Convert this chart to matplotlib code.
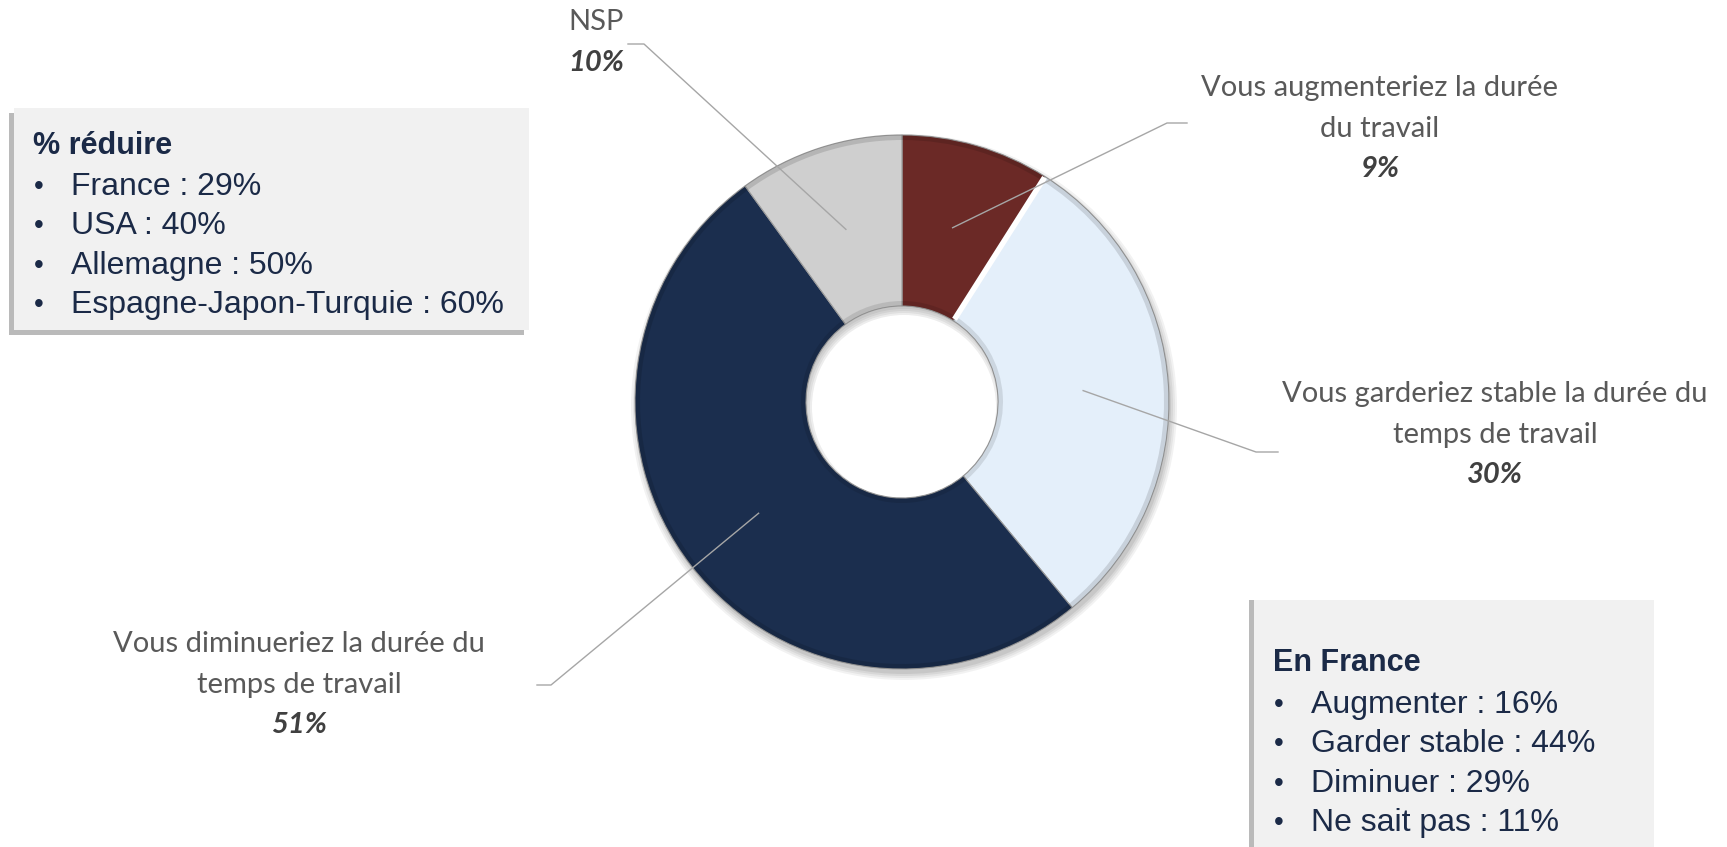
import matplotlib.pyplot as plt
from matplotlib.patches import Rectangle, Wedge
import numpy as np

# data
labels = ["Vous augmenteriez la durée\ndu travail",
          "Vous garderiez stable la durée du\ntemps de travail",
          "Vous diminueriez la durée du\ntemps de travail",
          "NSP"]
values = [9, 30, 51, 10]
colors = ["#6B2926", "#E4EFFA", "#1B2E4E", "#CFCFCF"]

box1_title = "% réduire"
box1_items = ["France : 29%", "USA : 40%", "Allemagne : 50%", "Espagne-Japon-Turquie : 60%"]
box2_title = "En France"
box2_items = ["Augmenter : 16%", "Garder stable : 44%", "Diminuer : 29%", "Ne sait pas : 11%"]

W, H = 1727, 847
fig = plt.figure(figsize=(W / 100, H / 100), dpi=100)
ax = fig.add_axes([0, 0, 1, 1])


def Y(y):
    # layout written with y from top of image
    return H - y


cx, cy = 902, Y(402)
R, r_in = 267, 96

# soft shadow behind the ring
for k, a in enumerate([0.05, 0.05, 0.06, 0.07]):
    ax.add_patch(Wedge((cx + 2, cy - 5), R + 6 - 2 * k, 0, 360, width=R - r_in + 4,
                       color="#000000", alpha=a, lw=0))

wedges, _ = ax.pie(values, colors=colors, startangle=90, counterclock=False,
                   center=(cx, cy), radius=R, frame=True,
                   wedgeprops=dict(width=R - r_in, edgecolor="#9A9A9A", linewidth=0.8))

# bevel-like darker rim on each slice
for w in wedges:
    ax.add_patch(Wedge((cx, cy), R, w.theta1, w.theta2, width=5,
                       color="#000000", alpha=0.12, lw=0, zorder=2))
    ax.add_patch(Wedge((cx, cy), r_in + 5, w.theta1, w.theta2, width=5,
                       color="#000000", alpha=0.10, lw=0, zorder=2))

# white gap between first and second slice
t = np.deg2rad(wedges[0].theta1)
ax.plot([cx + (r_in + 2) * np.cos(t), cx + (R - 1) * np.cos(t)],
        [cy + (r_in + 2) * np.sin(t), cy + (R - 1) * np.sin(t)],
        color="white", lw=4, solid_capstyle="butt", zorder=3)

# leader lines and labels
elbows = [(1167, 123), (1256, 452), (551, 685), (644, 44)]
ends = [(1187, 123), (1278, 452), (537, 685), (628, 44)]
text_x = [1380, 1495, 299, 596]
text_y = [88, 394, 644, 22]
line_gap = 40.5
r_mid = (R + r_in) / 2
for w, lab, v, el, en, tx, ty in zip(wedges, labels, values, elbows, ends, text_x, text_y):
    ang = np.deg2rad((w.theta1 + w.theta2) / 2)
    x0, y0 = cx + r_mid * np.cos(ang), cy + r_mid * np.sin(ang)
    ax.plot([x0, el[0], en[0]], [y0, Y(el[1]), Y(en[1])], color="#A6A6A6", lw=1.0, zorder=4)
    lines = lab.split("\n")
    for i, ln in enumerate(lines):
        ax.text(tx, Y(ty + i * line_gap), ln, ha="center", va="center", fontsize=21,
                family="Lato", color="#595959")
    ax.text(tx, Y(ty + len(lines) * line_gap), f"{v}%", ha="center", va="center",
            fontsize=21, family="Lato", color="#404040", fontweight="bold", style="italic")


def info_box(x, y, w, h, title, items, title_dy, first_dy, shadow=(-5, 5)):
    ax.add_patch(Rectangle((x + shadow[0], Y(y + h) - shadow[1]), w, h,
                           color="#8C8C8C", alpha=0.6, lw=0, zorder=5))
    ax.add_patch(Rectangle((x, Y(y + h)), w, h, color="#F1F1F1", lw=0, zorder=6))
    ax.text(x + 19, Y(y + title_dy), title, fontsize=22, family="Liberation Sans",
            fontweight="bold", color="#1B2A47", va="center", zorder=7)
    for i, item in enumerate(items):
        yy = Y(y + first_dy + i * 39.3)
        ax.text(x + 20, yy, "•", fontsize=20, family="Liberation Sans",
                color="#1B2A47", va="center", zorder=7)
        ax.text(x + 57, yy, item, fontsize=23, family="Liberation Sans",
                color="#1B2A47", va="center", zorder=7)


info_box(14, 108, 515, 222, box1_title, box1_items, 38, 79)
info_box(1254, 600, 400, 260, box2_title, box2_items, 63, 105, shadow=(-5, 0))

ax.set_xlim(0, W)
ax.set_ylim(0, H)
ax.axis("off")
fig.savefig("out.png", dpi=100, facecolor="white")
